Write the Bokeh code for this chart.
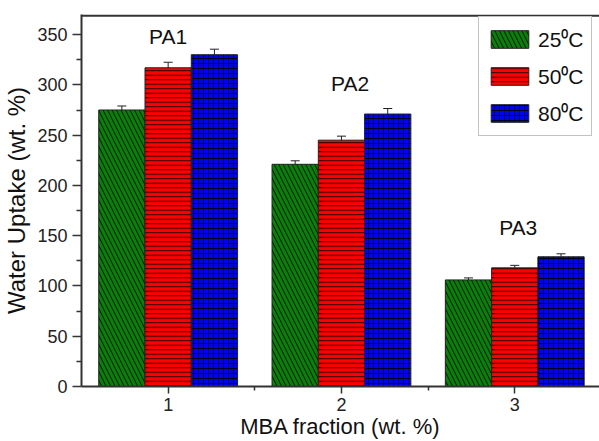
from bokeh.plotting import figure
from bokeh.models import (ColumnDataSource, Whisker, FixedTicker, Legend, LegendItem,
                          Range1d, LabelSet, BoxAnnotation)
from bokeh.core.properties import value
from bokeh.transform import dodge
from bokeh.embed import file_html
from bokeh.resources import INLINE

# ---- data ----
mba = [1, 2, 3]
series_names = ["25\u2070C", "50\u2070C", "80\u2070C"]
uptake_25 = [275, 221, 106]
uptake_50 = [317, 245, 118]
uptake_80 = [330, 271, 129]
err_25 = [4, 3.5, 2]
err_50 = [5.5, 4, 2.5]
err_80 = [5.5, 5.5, 3]
group_labels = ["PA1", "PA2", "PA3"]
label_x = [1.0, 2.05, 3.02]
label_y = [348, 301, 158]
y_ticks = [0, 50, 100, 150, 200, 250, 300, 350]
x_ticks = [1, 2, 3]
y_max = 370

FONT = "Liberation Sans"
AX = "#333333"

src = ColumnDataSource(dict(
    x=mba, a=uptake_25, b=uptake_50, c=uptake_80,
    a_lo=[v - e for v, e in zip(uptake_25, err_25)], a_hi=[v + e for v, e in zip(uptake_25, err_25)],
    b_lo=[v - e for v, e in zip(uptake_50, err_50)], b_hi=[v + e for v, e in zip(uptake_50, err_50)],
    c_lo=[v - e for v, e in zip(uptake_80, err_80)], c_hi=[v + e for v, e in zip(uptake_80, err_80)],
))

p = figure(width=599, height=441, output_backend="svg", toolbar_location=None,
           x_range=Range1d(0.5, 3.489), y_range=Range1d(0, y_max),
           min_border_left=79, min_border_top=14, min_border_right=0, min_border_bottom=0)
p.outline_line_color = None
p.grid.visible = False
p.background_fill_color = "white"

xb = p.below[0]
yl = p.left[0]

# top frame border
p.add_layout(BoxAnnotation(bottom=y_max - 2.2, top=y_max, fill_color=AX, fill_alpha=1,
                           line_color=None, level="overlay"))

W = 0.267
styles = [
    ("a", -W, "#0a800a", "\\", 9),
    ("b", 0.0, "#ff0000", "-", 4.5),
    ("c", W, "#0000ff", "+", 5),
]
renderers = []
for key, off, col, hatch, sc in styles:
    r = p.vbar(x=dodge("x", off), top=key, width=W, source=src, fill_color=col,
               line_color="#222222", line_width=1, hatch_pattern=hatch, hatch_color="black",
               hatch_weight=1, hatch_scale=sc, hatch_alpha=0.85)
    renderers.append(r)
    wk = Whisker(base=dodge("x", off), upper=key + "_hi", lower=key + "_lo", source=src,
                 line_color="#222222", line_width=1)
    wk.upper_head.size = 9
    wk.lower_head.size = 9
    wk.upper_head.line_color = "#222222"
    wk.lower_head.line_color = "#222222"
    p.add_layout(wk)

lsrc = ColumnDataSource(dict(x=label_x, y=label_y, t=group_labels))
p.add_layout(LabelSet(x="x", y="y", text="t", source=lsrc, text_font=value(FONT),
                      text_font_size="21px", text_align="center", text_baseline="middle",
                      text_color="#111111"))

legend = Legend(items=[LegendItem(label=n, renderers=[r]) for n, r in zip(series_names, renderers)],
                location=(397, 250), margin=0, padding=7, spacing=7,
                glyph_width=47, glyph_height=22, label_height=30, label_standoff=5,
                label_text_font=FONT, label_text_font_size="21px", label_text_color="#111111",
                border_line_color="#888888", border_line_width=1.5, background_fill_alpha=1)
p.add_layout(legend)

for ax in (xb, yl):
    ax.axis_line_color = AX
    ax.axis_line_width = 2
    ax.major_tick_line_color = AX
    ax.minor_tick_line_color = AX
    ax.major_tick_line_width = 1.5
    ax.minor_tick_line_width = 1.5
    ax.major_tick_in = 0
    ax.minor_tick_in = 0
    ax.major_label_text_font = FONT
    ax.major_label_text_font_size = "18px"
    ax.major_label_text_color = "#222222"
    ax.axis_label_text_font = FONT
    ax.axis_label_text_font_style = "normal"
    ax.axis_label_text_color = "#111111"

yl.ticker = FixedTicker(ticks=y_ticks, minor_ticks=[v + 25 for v in y_ticks])
yl.major_tick_out = 9
yl.minor_tick_out = 5
yl.major_label_standoff = 5
yl.axis_label = "Water Uptake (wt. %)"
yl.axis_label_text_font_size = "24px"
yl.axis_label_standoff = 4

xb.ticker = FixedTicker(ticks=x_ticks, minor_ticks=[1.5, 2.5])
xb.major_tick_out = 7
xb.minor_tick_out = 4
xb.major_label_standoff = 4
xb.axis_label = "MBA fraction (wt. %)"
xb.axis_label_text_font_size = "22px"
xb.axis_label_standoff = 0

open("out.html", "w").write(file_html(p, INLINE))
